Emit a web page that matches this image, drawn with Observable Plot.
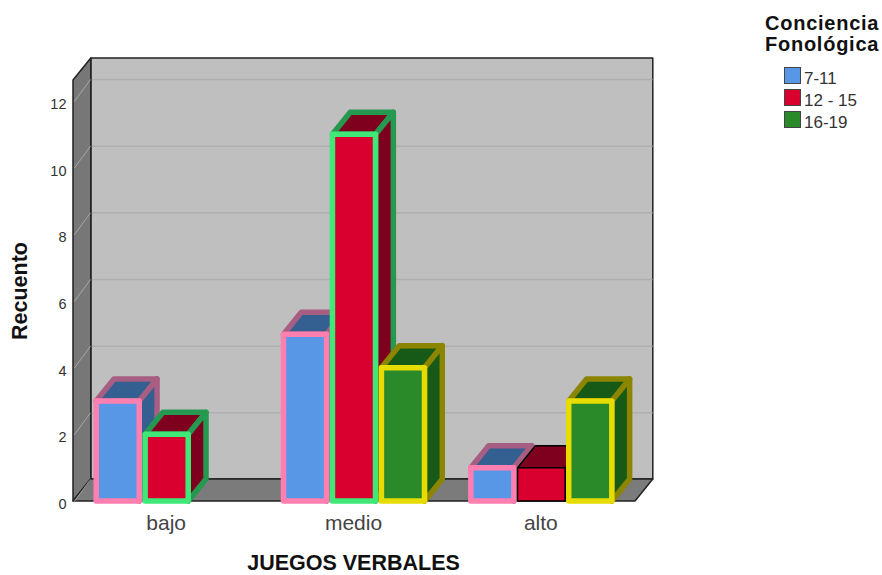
<!DOCTYPE html>
<html>
<head>
<meta charset="utf-8">
<script src="https://cdn.jsdelivr.net/npm/d3@7"></script>
<script src="https://cdn.jsdelivr.net/npm/@observablehq/plot@0.6"></script>
<style>
  html, body { margin: 0; padding: 0; background: #fff; }
  body { width: 882px; height: 575px; position: relative; overflow: hidden; font-family: "Liberation Sans", sans-serif; }
  #legend { position: absolute; left: 765px; top: 13px; }
  #legend .title { font-weight: bold; font-size: 20px; letter-spacing: 0.75px; line-height: 21px; color: #111; }
  #legend .row { position: absolute; left: 19px; height: 22px; white-space: nowrap; font-size: 17px; line-height: 22px; color: #333; padding-left: 20px; }
  #legend .lab { position: relative; top: 2px; }
  #legend .sw { position: absolute; left: 0; top: 1px; width: 15px; height: 15px; border: 1px solid #444; }
</style>
</head>
<body>
<div id="chart"></div>
<div id="legend"></div>
<script>
const categories = ["bajo", "medio", "alto"];
const seriesNames = ["7-11", "12 - 15", "16-19"];
const series1 = [3, 5, 1];
const series2 = [2, 11, 1];
const series3 = [0, 4, 3];
const yTicks = [0, 2, 4, 6, 8, 10, 12];
const yLabel = "Recuento";
const xLabel = "JUEGOS VERBALES";
const legendTitle = ["Conciencia", "Fonológica"];

// styles
const fills = ["#5897e6", "#d9002f", "#2a8a2a"];
const topFills = ["#335f91", "#7f001e", "#175a17"];
const edges = ["#ff7fb0", "#40e878", "#e6dc00"];
const topEdges = ["#a85e82", "#259950", "#8c8500"];

// chart box: x in category units, y in counts
const yMax = 12.63;
const depthX = 0.095;   // 3D depth along x, category units
const depthY = 0.66;    // 3D depth along y, counts
const slot = 0.2613;
const xMin = -0.5, xMax = 2.5;

function quad(a, b, c, d, style) {
  return Plot.area(
    [{x1: a[0], y1: a[1], x2: d[0], y2: d[1]}, {x1: b[0], y1: b[1], x2: c[0], y2: c[1]}],
    {x1: "x1", y1: "y1", x2: "x2", y2: "y2", strokeLinejoin: "round", ...style}
  );
}

const bars = [];
[series1, series2, series3].forEach((vals, s) => {
  vals.forEach((v, c) => { if (v > 0) bars.push({c, s, v}); });
});
bars.sort((a, b) => a.c - b.c || a.s - b.s);

function barMarks(b) {
  const thin = b.c === 2 && b.s === 1;
  const half = thin ? 0.127 : 0.115;
  const mid = b.c + (b.s - 1) * slot;
  const x1 = mid - half, x2 = mid + half;
  const front = thin ? "#000" : edges[b.s];
  const back = thin ? "#000" : topEdges[b.s];
  const sw = thin ? 1.5 : 5.5;
  const face = {fill: topFills[b.s], stroke: back, strokeWidth: sw};
  return [
    quad([x1, b.v], [x2, b.v], [x2 + depthX, b.v + depthY], [x1 + depthX, b.v + depthY], face),
    quad([x2, 0], [x2 + depthX, depthY], [x2 + depthX, b.v + depthY], [x2, b.v], face),
    Plot.rect([b], {x1: () => x1, x2: () => x2, y1: () => 0, y2: d => d.v, fill: fills[b.s], stroke: front, strokeWidth: sw, strokeLinejoin: "round"})
  ];
}

const backTicks = yTicks.filter(t => t > 0);

const plot = Plot.plot({
  width: 882,
  height: 575,
  marginLeft: 73,
  marginRight: 247,
  marginTop: 80,
  marginBottom: 74,
  style: {fontFamily: "'Liberation Sans', sans-serif", background: "#fff", overflow: "visible"},
  x: {type: "linear", domain: [xMin, xMax], label: null},
  y: {domain: [0, yMax], label: null},
  marks: [
    // back wall
    quad([xMin + depthX, depthY], [xMax + depthX, depthY], [xMax + depthX, yMax + depthY], [xMin + depthX, yMax + depthY],
      {fill: "#bfbfbf", stroke: "#222", strokeWidth: 1.5}),
    // left wall
    quad([xMin, 0], [xMin + depthX, depthY], [xMin + depthX, yMax + depthY], [xMin, yMax],
      {fill: "#777777", stroke: "#222", strokeWidth: 1.5}),
    // floor
    quad([xMin, 0], [xMax, 0], [xMax + depthX, depthY], [xMin + depthX, depthY],
      {fill: "#7b7b7b", stroke: "#222", strokeWidth: 1.5}),
    // grid on back wall and left wall
    Plot.link(backTicks, {x1: xMin + depthX + 0.004, x2: xMax + depthX - 0.004, y1: d => d + depthY, y2: d => d + depthY, stroke: "#afafaf", strokeWidth: 1.5}),
    Plot.link(yTicks, {x1: xMin + 0.004, x2: xMin + depthX - 0.004, y1: d => d, y2: d => d + depthY, stroke: "#a8a8a8", strokeWidth: 1}),
    ...bars.flatMap(barMarks),
    Plot.axisY({ticks: yTicks, tickSize: 0, tickPadding: 7, dy: 3, fontSize: 14.5, fill: "#333", label: null}),
    Plot.axisX({ticks: [0, 1, 2], tickFormat: i => categories[i], tickSize: 0, tickPadding: 14, dx: -1, fontSize: 21, fill: "#444", label: null}),
    Plot.text([xLabel], {frameAnchor: "bottom", dy: 68, dx: -1, fontSize: 21.5, fontWeight: "bold", fill: "#111"}),
    Plot.text([yLabel], {frameAnchor: "left", textAnchor: "middle", rotate: -90, dx: -53, fontSize: 21.5, fontWeight: "bold", fill: "#111"})
  ]
});
document.getElementById("chart").appendChild(plot);
plot.style.display = "block";

const legend = document.getElementById("legend");
legendTitle.forEach(t => {
  const el = document.createElement("div");
  el.className = "title";
  el.textContent = t;
  legend.appendChild(el);
});
seriesNames.forEach((n, i) => {
  const row = document.createElement("div");
  row.className = "row";
  row.style.top = (53 + i * 22) + "px";
  const sw = document.createElement("span");
  sw.className = "sw";
  sw.style.background = fills[i];
  row.appendChild(sw);
  const lab = document.createElement("span");
  lab.className = "lab";
  lab.textContent = n;
  row.appendChild(lab);
  legend.appendChild(row);
});
</script>
</body>
</html>
